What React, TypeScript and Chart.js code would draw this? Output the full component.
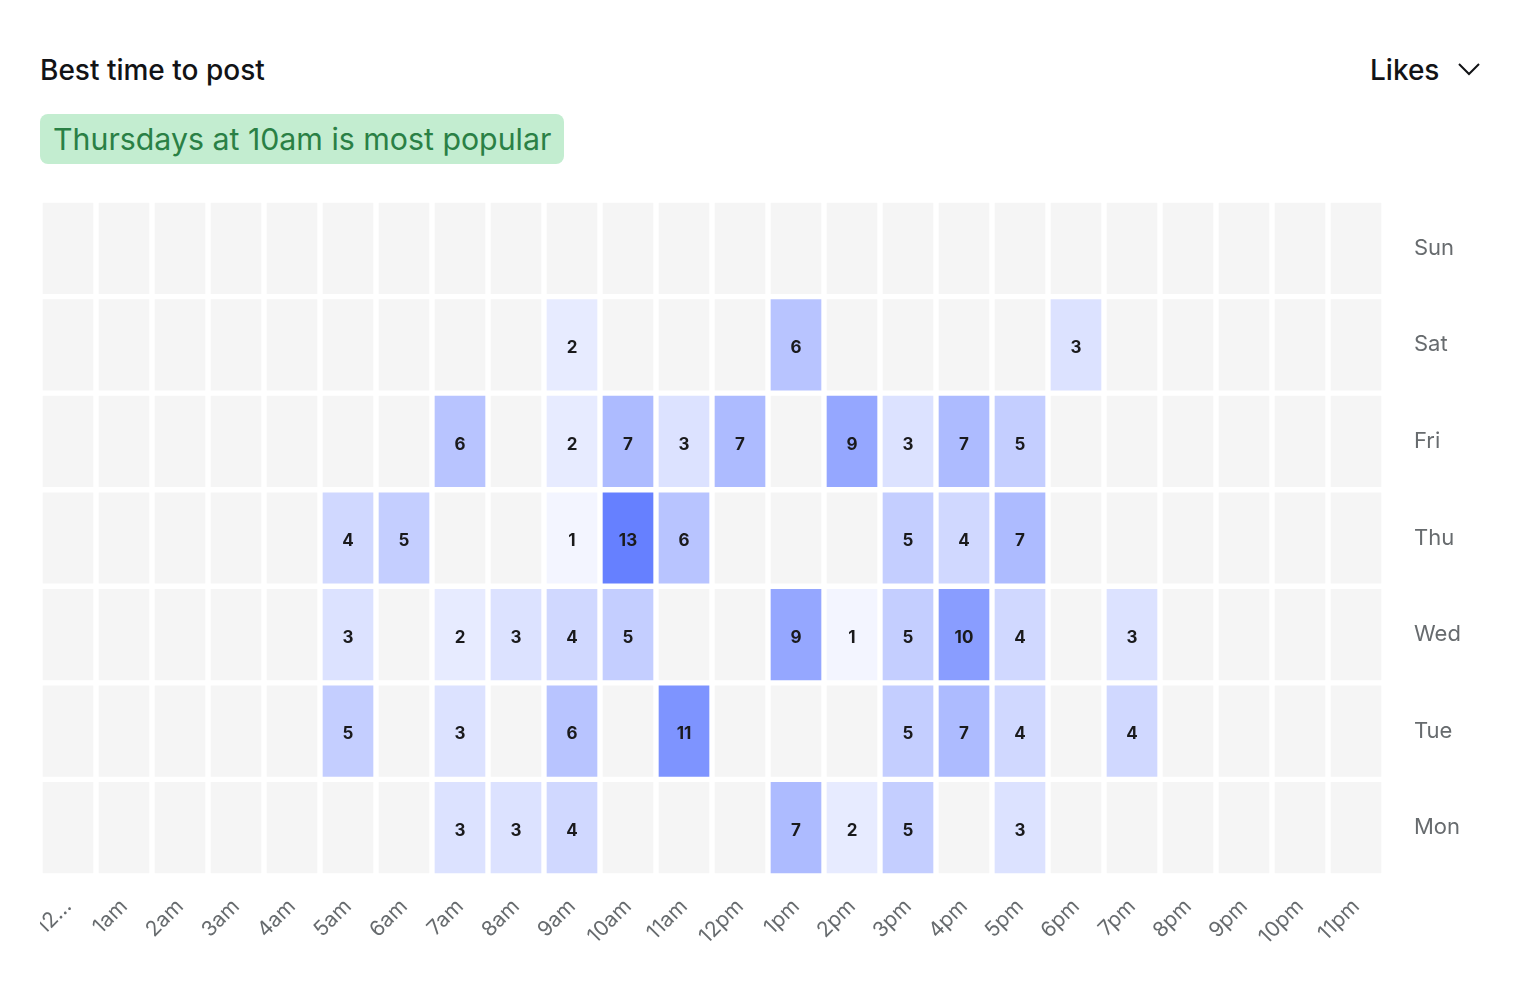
import React, { useEffect, useRef } from "react";
import { Chart, registerables } from "chart.js";

Chart.register(...registerables);

const hours = [
  "12am", "1am", "2am", "3am", "4am", "5am", "6am", "7am", "8am", "9am", "10am", "11am",
  "12pm", "1pm", "2pm", "3pm", "4pm", "5pm", "6pm", "7pm", "8pm", "9pm", "10pm", "11pm",
];

// bottom-up order
const days = ["Mon", "Tue", "Wed", "Thu", "Fri", "Sat", "Sun"];

const mon = [0, 0, 0, 0, 0, 0, 0, 3, 3, 4, 0, 0, 0, 7, 2, 5, 0, 3, 0, 0, 0, 0, 0, 0];
const tue = [0, 0, 0, 0, 0, 5, 0, 3, 0, 6, 0, 11, 0, 0, 0, 5, 7, 4, 0, 4, 0, 0, 0, 0];
const wed = [0, 0, 0, 0, 0, 3, 0, 2, 3, 4, 5, 0, 0, 9, 1, 5, 10, 4, 0, 3, 0, 0, 0, 0];
const thu = [0, 0, 0, 0, 0, 4, 5, 0, 0, 1, 13, 6, 0, 0, 0, 5, 4, 7, 0, 0, 0, 0, 0, 0];
const fri = [0, 0, 0, 0, 0, 0, 0, 6, 0, 2, 7, 3, 7, 0, 9, 3, 7, 5, 0, 0, 0, 0, 0, 0];
const sat = [0, 0, 0, 0, 0, 0, 0, 0, 0, 2, 0, 0, 0, 6, 0, 0, 0, 0, 3, 0, 0, 0, 0, 0];
const sun = [0, 0, 0, 0, 0, 0, 0, 0, 0, 0, 0, 0, 0, 0, 0, 0, 0, 0, 0, 0, 0, 0, 0, 0];

const series = [mon, tue, wed, thu, fri, sat, sun];
const maxValue = 13;

function cellColor(v: number): string {
  if (!v) return "#f5f5f5";
  const a = v / maxValue;
  const r = Math.round(255 - a * (255 - 102));
  const g = Math.round(255 - a * (255 - 128));
  return `rgb(${r},${g},255)`;
}

const valueLabels = {
  id: "valueLabels",
  afterDatasetsDraw(chart: any) {
    const { ctx, scales } = chart;
    ctx.save();
    ctx.font = "700 17px Inter";
    ctx.fillStyle = "#1a1a1c";
    ctx.textAlign = "center";
    ctx.textBaseline = "middle";
    series.forEach((row, d) => {
      row.forEach((v, h) => {
        if (!v) return;
        const x = scales.x.getPixelForValue(h);
        const y = scales.y.getPixelForValue(d + 0.5);
        ctx.fillText(String(v), x, y + 3);
      });
    });
    ctx.restore();
  },
};

export default function App() {
  const ref = useRef<HTMLCanvasElement>(null);
  useEffect(() => {
    if (!ref.current) return;
    const chart = new Chart(ref.current, {
      type: "bar",
      data: {
        labels: hours,
        datasets: series.map((row, d) => ({
          label: days[d],
          data: row.map(() => 1),
          backgroundColor: row.map(cellColor),
          borderColor: "#ffffff",
          borderWidth: 3,
          borderSkipped: false,
          barPercentage: 1,
          categoryPercentage: 1,
        })),
      },
      options: {
        animation: false,
        responsive: false,
        maintainAspectRatio: false,
        layout: { padding: { top: 10, left: 0, right: 0, bottom: 0 } },
        plugins: { legend: { display: false }, tooltip: { enabled: false } },
        scales: {
          x: {
            stacked: true,
            grid: { display: false, drawTicks: false },
            border: { display: false },
            ticks: {
              minRotation: 45,
              maxRotation: 45,
              padding: 18,
              color: "#676b6e",
              font: { family: "Inter", size: 21 },
              callback: (_v: any, i: number) => (i === 0 ? "12\u2026" : hours[i]),
            },
            afterFit: (s: any) => {
              s.height = 114;
              s.paddingLeft = 0;
              s.paddingRight = 0;
            },
          },
          y: {
            stacked: true,
            position: "right",
            min: 0,
            max: 7,
            grid: { display: false, drawTicks: false },
            border: { display: false },
            afterBuildTicks: (axis: any) => {
              axis.ticks = days.map((_, i) => ({ value: i + 0.5 }));
            },
            ticks: {
              padding: 30,
              color: "#676b6e",
              font: { family: "Inter", size: 22 },
              callback: (v: any) => days[Math.floor(Number(v))],
            },
            afterFit: (s: any) => {
              s.width = 136;
              s.paddingTop = 0;
              s.paddingBottom = 0;
            },
          },
        },
      },
      plugins: [valueLabels],
    });
    return () => chart.destroy();
  }, []);

  return (
    <div style={{ position: "relative", width: 1520, height: 1000, fontFamily: "Inter, sans-serif", margin: -8 }}>
      <div
        style={{
          position: "absolute",
          left: 40,
          top: 52,
          fontSize: 28,
          fontWeight: 500,
          color: "#121316",
          lineHeight: "36px",
        }}
      >
        Best time to post
      </div>
      <div
        style={{
          position: "absolute",
          left: 1370,
          top: 52,
          fontSize: 28,
          fontWeight: 500,
          color: "#121316",
          lineHeight: "36px",
        }}
      >
        Likes
      </div>
      <svg style={{ position: "absolute", left: 1456, top: 60 }} width={26} height={20}>
        <polyline points="3,4 13,14 23,4" fill="none" stroke="#121316" strokeWidth={2} />
      </svg>
      <div
        style={{
          position: "absolute",
          left: 40,
          top: 114,
          width: 524,
          height: 50,
          background: "#c3edd0",
          borderRadius: 8,
          color: "#2a8045",
          fontSize: 30.3,
          lineHeight: "50px",
          paddingLeft: 13,
          boxSizing: "border-box",
          whiteSpace: "nowrap",
        }}
      >
        Thursdays at 10am is most popular
      </div>
      <canvas
        ref={ref}
        width={1480}
        height={800}
        style={{ position: "absolute", left: 40, top: 190, width: 1480, height: 800 }}
      />
    </div>
  );
}
